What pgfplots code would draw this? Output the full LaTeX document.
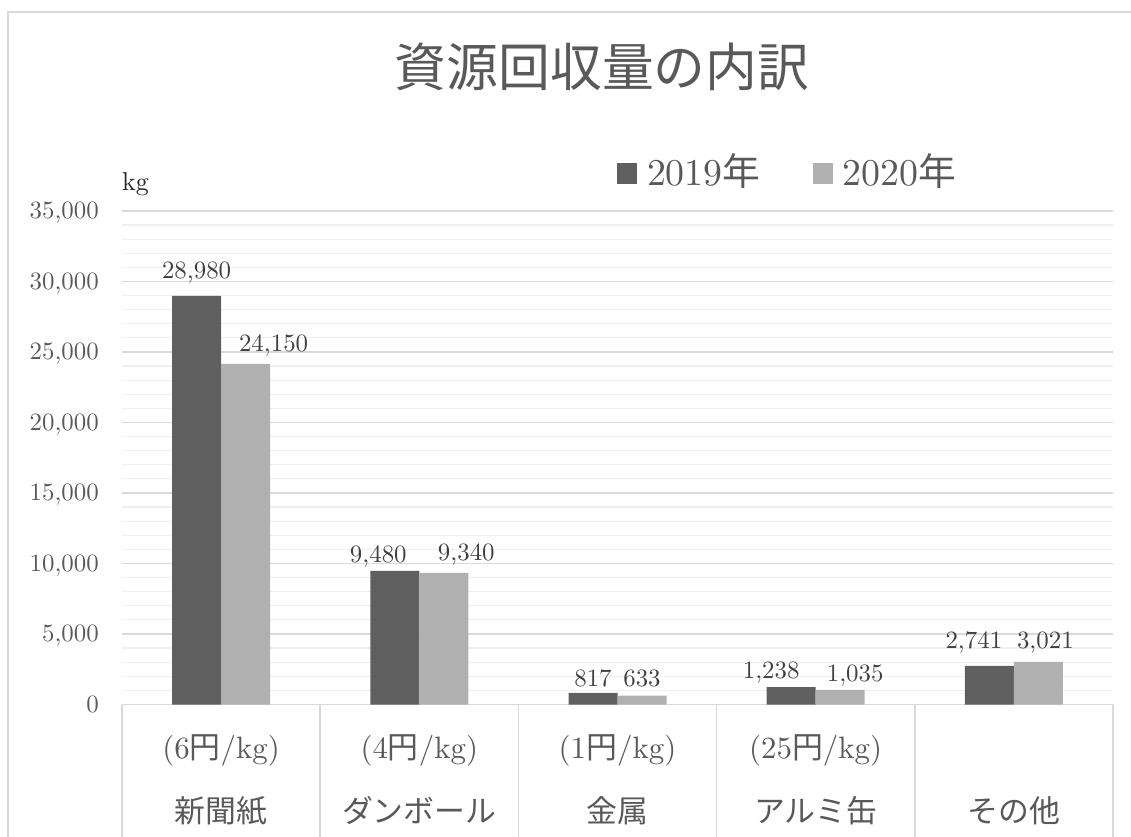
\documentclass[border=0pt]{standalone}
\usepackage{fontspec}
\setmainfont{lmroman10-regular.otf}
\usepackage{pgfplots}
\usepackage{pgfplotstable}
\pgfplotsset{compat=1.18}
\newfontfamily\cjk{Noto Sans CJK JP}
\definecolor{dark}{HTML}{5F5F5F}
\definecolor{light}{HTML}{B0B0B0}
\definecolor{gmaj}{HTML}{D9D9D9}
\definecolor{gmin}{HTML}{F0F0F0}
\definecolor{txt}{HTML}{595959}
\definecolor{lbl}{HTML}{404040}
\newcommand\Lh{\vphantom{({\cjk 円}g)}}
% x value labeldx labeldy
\pgfplotstableread{
x y lx ly
0 28980 0 17
1 9480 -16.5 8
2 817 0 6
3 1238 -20 9
4 2741 -15.5 17.5
}\tabA
\pgfplotstableread{
x y lx ly
0 24150 28 12.6
1 9340 22.5 12.7
2 633 0 9
3 1035 15 8.3
4 3021 7 13.4
}\tabB
\begin{document}
\begin{tikzpicture}
\draw[gmaj, line width=1.5bp] (8bp,-30bp) -- (8bp,825bp) -- (1160bp,825bp);
\node[text=txt, font=\cjk\fontsize{52}{60}\selectfont] at (602bp,770bp) {資源回収量の内訳};
\node[anchor=base west, inner sep=0pt, text=black!85, font=\fontsize{26}{30}\selectfont] at (122bp,646bp) {kg};
\begin{axis}[
  at={(122bp,132.5bp)}, anchor=south west,
  width=991bp, height=493.5bp, scale only axis,
  clip=false,
  xmin=-0.5, xmax=4.5, ymin=0, ymax=35000,
  axis x line*=bottom, axis y line*=left,
  x axis line style={draw=gmaj, line width=1.5bp, -},
  y axis line style={draw=none},
  xtick={0,1,2,3,4},
  xticklabels={
    {\Lh(6{\cjk 円}/kg)\\{\cjk 新聞紙}},
    {\Lh(4{\cjk 円}/kg)\\{\cjk ダンボール}},
    {\Lh(1{\cjk 円}/kg)\\{\cjk 金属}},
    {\Lh(25{\cjk 円}/kg)\\{\cjk アルミ缶}},
    {\Lh\\{\cjk その他}}},
  x tick style={draw=none},
  xticklabel style={font=\fontsize{31}{64}\selectfont, text=txt, align=center, anchor=north, inner sep=0pt, yshift=-26bp},
  ytick={0,5000,...,35000},
  minor y tick num=4,
  ymajorgrids, yminorgrids,
  major grid style={draw=gmaj, line width=1.2bp},
  minor grid style={draw=gmin, line width=1.2bp},
  y tick style={draw=none},
  yticklabel style={font=\fontsize{25}{30}\selectfont, text=txt, anchor=base east, inner sep=0pt, xshift=-23bp, yshift=-8bp},
  scaled y ticks=false,
  /pgf/number format/.cd, fixed, 1000 sep={,}, assume math mode=true, /pgfplots/.cd,
  ybar=0pt, bar width=49bp,
  legend style={at={(0.4995,1.082)}, anchor=west, draw=none, fill=none, inner sep=0pt, outer sep=0pt,
    font=\fontsize{38}{42}\selectfont, text=txt, nodes={inner sep=0pt, anchor=base},
    /tikz/every odd column/.append style={column sep=10bp},
    /tikz/every even column/.append style={column sep=52bp}},
  legend columns=2,
  legend image code/.code={\fill[#1] (0bp,2bp) rectangle (20bp,23bp);},
  lblstyle/.style={
    nodes near coords,
    visualization depends on={\thisrow{lx}\as\lx},
    visualization depends on={\thisrow{ly}\as\ly},
    every node near coord/.append style={font=\fontsize{25}{30}\selectfont, text=lbl, anchor=base, inner sep=0pt, xshift=\lx bp, yshift=\ly bp}},
]
\addplot[fill=dark, draw=none, lblstyle] table[x=x, y=y] {\tabA};
\addplot[fill=light, draw=none, lblstyle] table[x=x, y=y] {\tabB};
\legend{2019{\cjk 年}, 2020{\cjk 年}}
\pgfplotsinvokeforeach{-0.5,0.5,1.5,2.5,3.5,4.5}{
  \draw[gmaj, line width=1.5bp] (axis cs:#1,0) -- ([yshift=-140bp]axis cs:#1,0);
}
\end{axis}
\pgfresetboundingbox
\useasboundingbox (0,0) rectangle (1131bp,837bp);
\end{tikzpicture}
\end{document}
